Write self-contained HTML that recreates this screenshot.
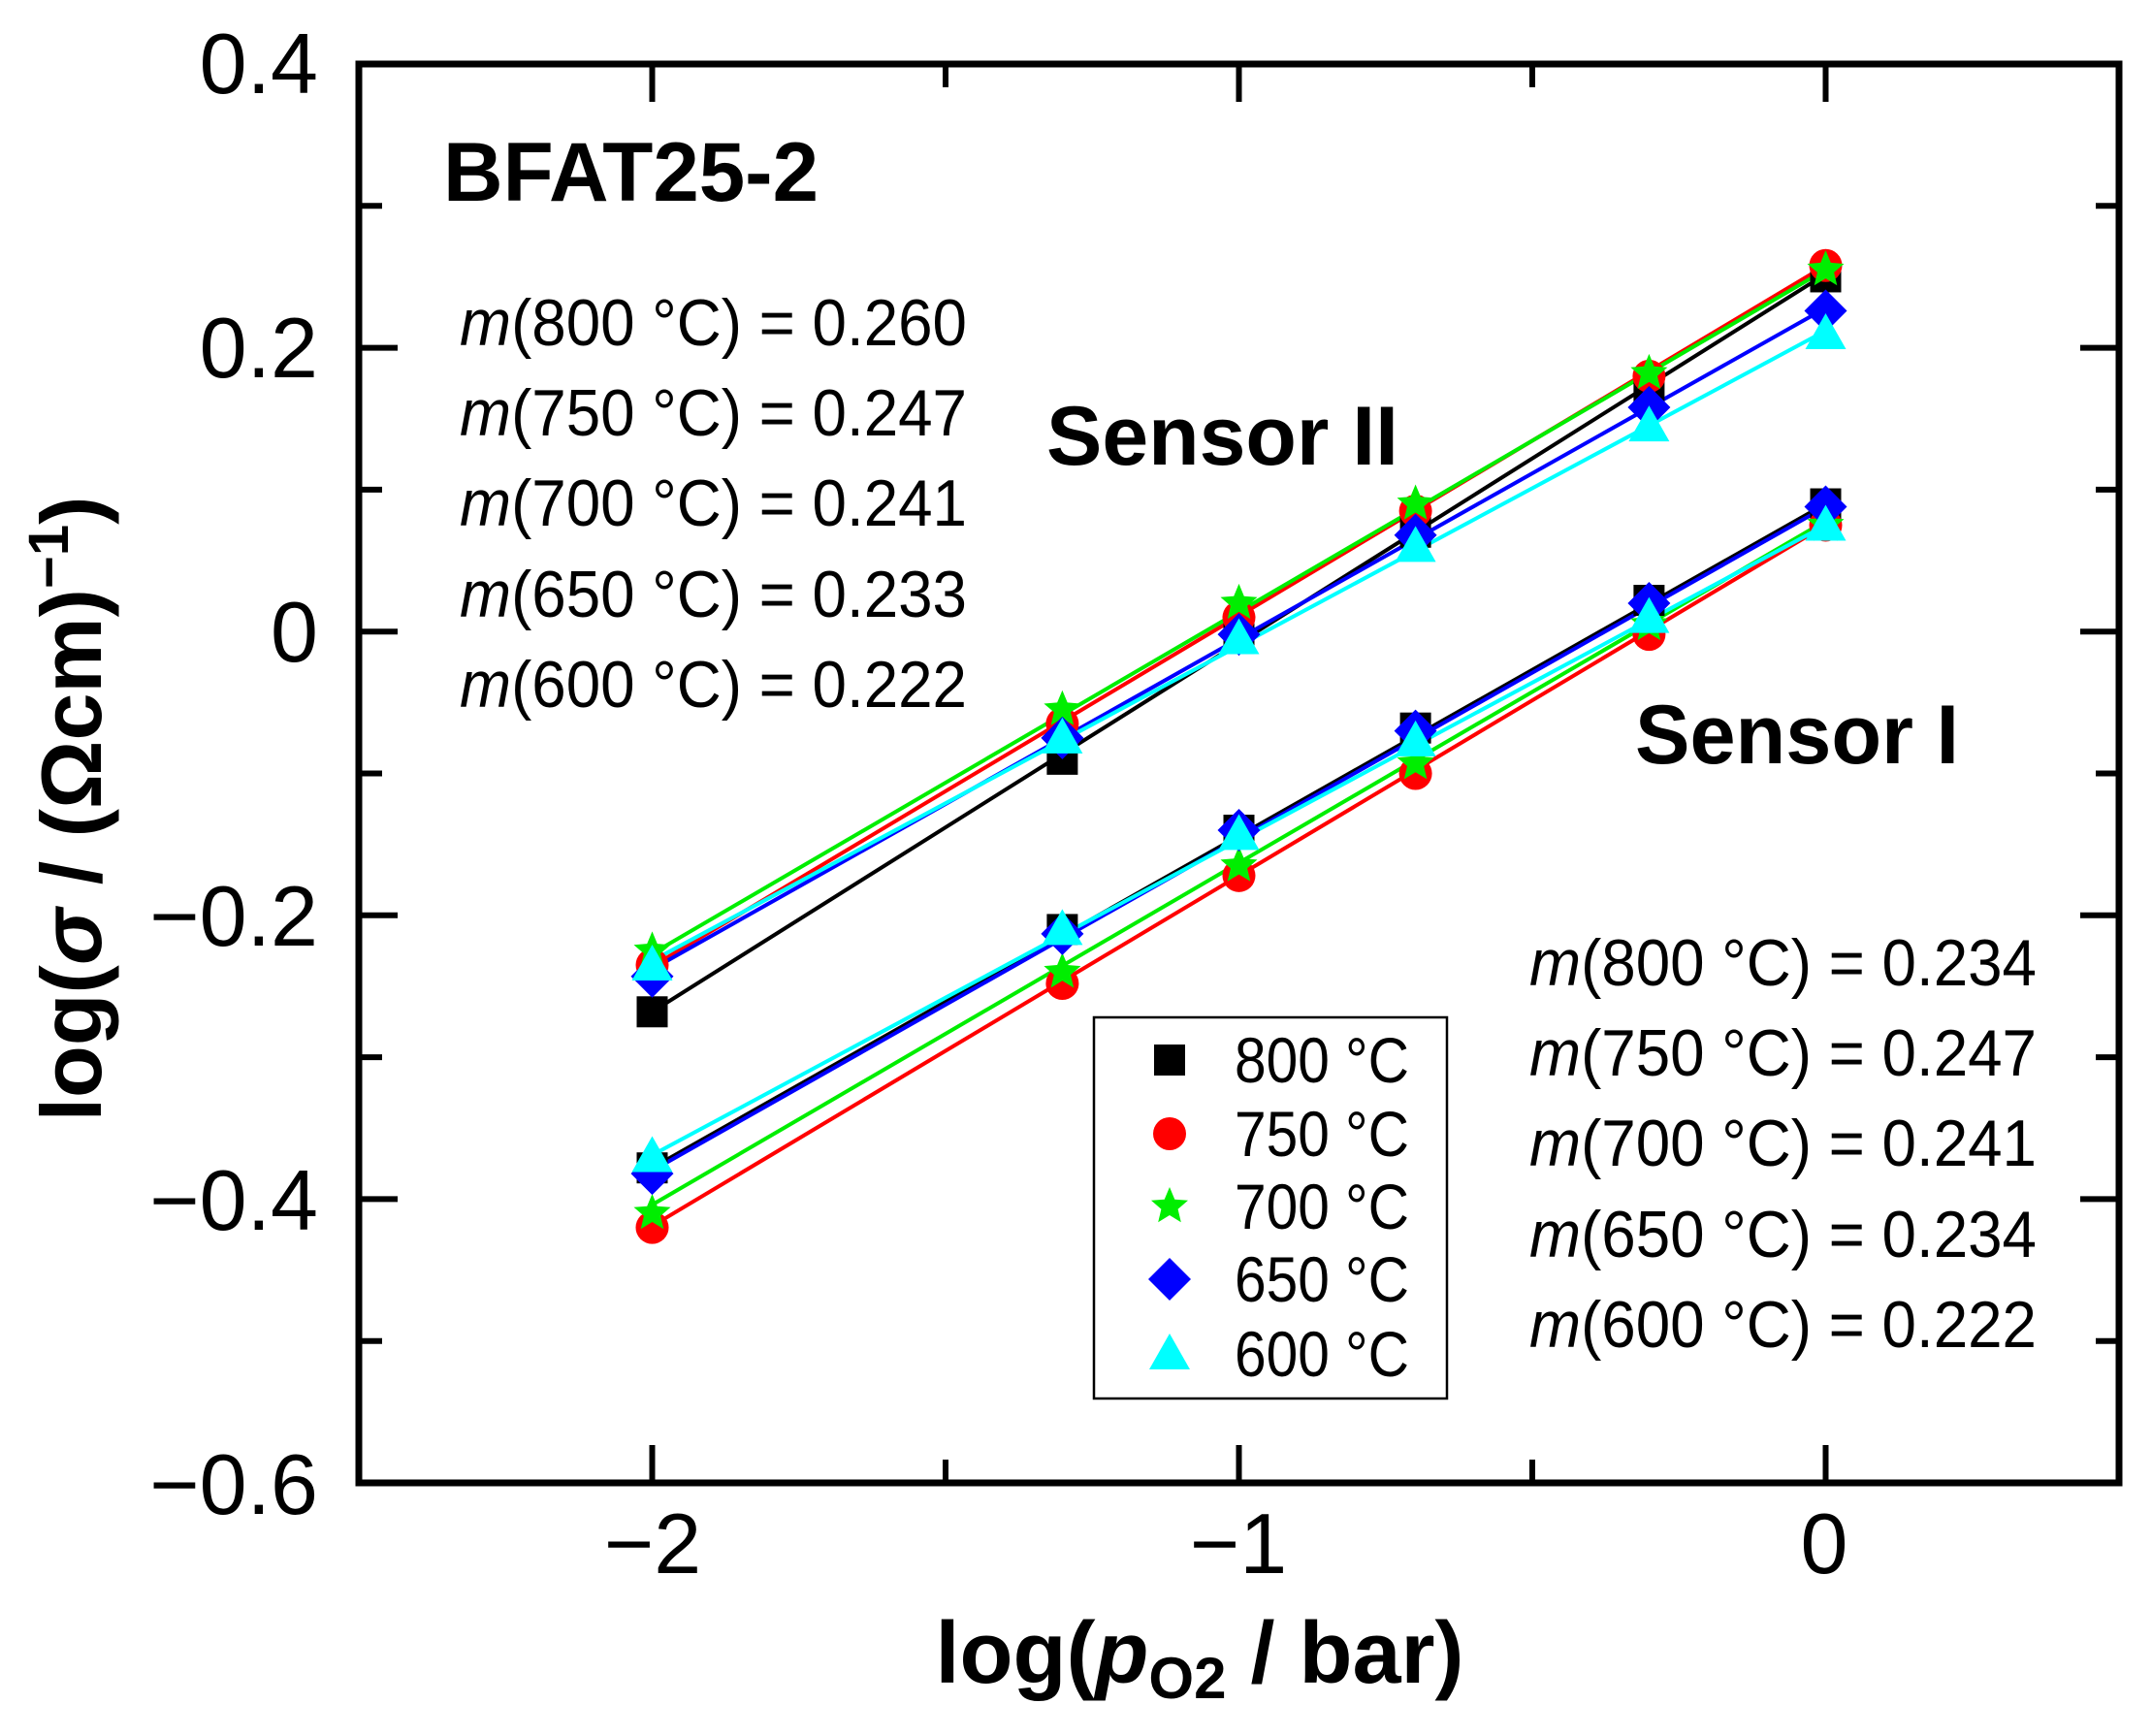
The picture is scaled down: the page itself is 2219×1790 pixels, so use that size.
<!DOCTYPE html>
<html><head><meta charset="utf-8"><style>
html,body{margin:0;padding:0;background:#fff}
svg{display:block}
text{font-family:"Liberation Sans",sans-serif}
</style></head><body>
<svg id="s" width="2219" height="1790" viewBox="0 0 2219 1790" xmlns="http://www.w3.org/2000/svg">
<rect width="2219" height="1790" fill="#fff"/>
<g id="ticks" stroke="#000" stroke-width="6"></g>
<g id="lines"></g>
<g id="marks"></g>
<rect x="370" y="66" width="1815" height="1463" fill="none" stroke="#000" stroke-width="7"/>
<g font-size="88" text-anchor="end">
<text x="328" y="96">0.4</text>
<text x="328" y="389">0.2</text>
<text x="328" y="682">0</text>
<text x="328" y="975">−0.2</text>
<text x="328" y="1268">−0.4</text>
<text x="328" y="1561">−0.6</text>
</g>
<g font-size="88" text-anchor="middle">
<text x="673" y="1622">−2</text>
<text x="1277" y="1622">−1</text>
<text x="1881" y="1622">0</text>
</g>
<text x="1237" y="1735" font-size="90" font-weight="bold" text-anchor="middle">log(<tspan font-style="italic">p</tspan><tspan font-size="60" dy="16">O2</tspan><tspan dy="-16"> / bar)</tspan></text>
<text transform="translate(104,834) rotate(-90)" font-size="88" font-weight="bold" text-anchor="middle">log(<tspan font-style="italic">σ</tspan> / (Ωcm)<tspan font-size="58" dy="-34">−1</tspan><tspan dy="34">)</tspan></text>
<text x="457" y="207" font-size="86" font-weight="bold" textLength="387" lengthAdjust="spacingAndGlyphs">BFAT25-2</text>
<text x="1079" y="479" font-size="86" font-weight="bold" textLength="363" lengthAdjust="spacingAndGlyphs">Sensor II</text>
<text x="1686" y="787" font-size="86" font-weight="bold" textLength="334" lengthAdjust="spacingAndGlyphs">Sensor I</text>
<g font-size="68">
<text x="474" y="356" textLength="523" lengthAdjust="spacingAndGlyphs"><tspan font-style="italic">m</tspan>(800 °C) = 0.260</text>
<text x="474" y="449" textLength="523" lengthAdjust="spacingAndGlyphs"><tspan font-style="italic">m</tspan>(750 °C) = 0.247</text>
<text x="474" y="542" textLength="523" lengthAdjust="spacingAndGlyphs"><tspan font-style="italic">m</tspan>(700 °C) = 0.241</text>
<text x="474" y="636" textLength="523" lengthAdjust="spacingAndGlyphs"><tspan font-style="italic">m</tspan>(650 °C) = 0.233</text>
<text x="474" y="729" textLength="523" lengthAdjust="spacingAndGlyphs"><tspan font-style="italic">m</tspan>(600 °C) = 0.222</text>
<text x="1577" y="1016" textLength="523" lengthAdjust="spacingAndGlyphs"><tspan font-style="italic">m</tspan>(800 °C) = 0.234</text>
<text x="1577" y="1109" textLength="523" lengthAdjust="spacingAndGlyphs"><tspan font-style="italic">m</tspan>(750 °C) = 0.247</text>
<text x="1577" y="1202" textLength="523" lengthAdjust="spacingAndGlyphs"><tspan font-style="italic">m</tspan>(700 °C) = 0.241</text>
<text x="1577" y="1296" textLength="523" lengthAdjust="spacingAndGlyphs"><tspan font-style="italic">m</tspan>(650 °C) = 0.234</text>
<text x="1577" y="1389" textLength="523" lengthAdjust="spacingAndGlyphs"><tspan font-style="italic">m</tspan>(600 °C) = 0.222</text>
</g>
<rect x="1128" y="1049" width="364" height="393" fill="#fff" stroke="#000" stroke-width="2.5"/>
<g id="leg"></g>
</svg>
<script>
var NS="http://www.w3.org/2000/svg";
function px(x){return 370+(x+2.5)*605;}
function py(y){return 66+(0.4-y)*1463;}
function el(t,a,p){var e=document.createElementNS(NS,t);for(var k in a)e.setAttribute(k,a[k]);p.appendChild(e);return e;}
var T=document.getElementById('ticks');
[-2,-1,0].forEach(function(x){el('line',{x1:px(x),y1:1529,x2:px(x),y2:1490},T);el('line',{x1:px(x),y1:66,x2:px(x),y2:105},T);});
[-1.5,-0.5].forEach(function(x){el('line',{x1:px(x),y1:1529,x2:px(x),y2:1505},T);el('line',{x1:px(x),y1:66,x2:px(x),y2:90},T);});
for(var i=0;i<=10;i++){var y=66+i*146.3;var L=(i%2==0)?40:24;el('line',{x1:370,y1:y,x2:370+L,y2:y},T);el('line',{x1:2185,y1:y,x2:2185-L,y2:y},T);}
var X=[-2,-1.301,-1,-0.699,-0.301,0];
var cols=['#000','#ff0000','#00ee00','#0000ff','#00ffff'];
var shapes=['sq','ci','st','di','tr'];
var S2=[[-0.268,-0.09,-0.005,0.07,0.17,0.25],[-0.235,-0.065,0.01,0.085,0.18,0.258],[-0.225,-0.055,0.02,0.09,0.182,0.255],[-0.243,-0.075,-0.002,0.068,0.158,0.226],[-0.235,-0.075,-0.005,0.06,0.145,0.21]];
var L2=[[-0.268,0.252],[-0.236,0.258],[-0.227,0.255],[-0.238,0.228],[-0.232,0.212]];
var S1=[[-0.378,-0.21,-0.14,-0.068,0.022,0.09],[-0.42,-0.248,-0.172,-0.1,-0.002,0.075],[-0.41,-0.24,-0.165,-0.093,0.005,0.075],[-0.382,-0.213,-0.14,-0.07,0.02,0.088],[-0.37,-0.21,-0.143,-0.077,0.01,0.075]];
var L1=[[-0.378,0.09],[-0.419,0.075],[-0.404,0.078],[-0.38,0.088],[-0.369,0.075]];
var G=document.getElementById('lines'),M=document.getElementById('marks');
function mark(s,x,y,c,p){
 if(s=='sq')el('rect',{x:x-16,y:y-16,width:32,height:32,fill:c},p);
 else if(s=='ci')el('circle',{cx:x,cy:y,r:17,fill:c},p);
 else if(s=='di')el('polygon',{points:(x)+','+(y-22)+' '+(x+22)+','+y+' '+x+','+(y+22)+' '+(x-22)+','+y,fill:c},p);
 else if(s=='tr')el('polygon',{points:x+','+(y-21)+' '+(x+21)+','+(y+16)+' '+(x-21)+','+(y+16),fill:c},p);
 else{var pts=[];for(var k=0;k<10;k++){var r=k%2?9:20,a=-Math.PI/2+k*Math.PI/5;pts.push((x+r*Math.cos(a)).toFixed(1)+','+(y+r*Math.sin(a)).toFixed(1));}el('polygon',{points:pts.join(' '),fill:c},p);}
}
[[S1,L1],[S2,L2]].forEach(function(set){
 for(var j=0;j<5;j++){el('line',{x1:px(-2),y1:py(set[1][j][0]),x2:px(0),y2:py(set[1][j][1]),stroke:cols[j],'stroke-width':4},G);}
});
[S1,S2].forEach(function(S){for(var j=0;j<5;j++)for(var i=0;i<6;i++)mark(shapes[j],px(X[i]),py(S[j][i]),cols[j],M);});
var LG=document.getElementById('leg');
var labs=['800 °C','750 °C','700 °C','650 °C','600 °C'],ly=[1093,1169,1244,1319,1396];
for(var j=0;j<5;j++){mark(shapes[j],1206,ly[j],cols[j],LG);var t=el('text',{x:1273,y:ly[j]+23,'font-size':66,textLength:180,lengthAdjust:'spacingAndGlyphs'},LG);t.textContent=labs[j];}
</script>
</body></html>
